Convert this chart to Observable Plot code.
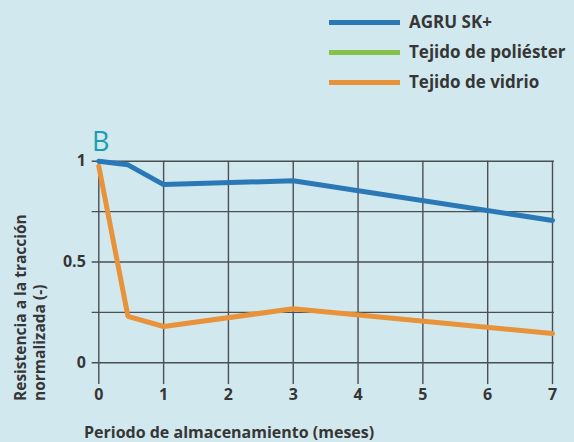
<!DOCTYPE html>
<html><head><meta charset="utf-8">
<script src="https://cdn.jsdelivr.net/npm/d3@7"></script>
<script src="https://cdn.jsdelivr.net/npm/@observablehq/plot@0.6"></script>
<style>
html,body{margin:0;padding:0;background:#d1e8ef;}
#wrap{position:relative;width:574px;height:442px;background:#d1e8ef;font-family:"Open Sans",sans-serif;color:#363636;overflow:hidden;}
#wrap svg{position:absolute;left:0;top:0;}
.lg{position:absolute;font-weight:700;font-size:17px;line-height:19px;}
.sw{position:absolute;height:5px;width:71px;}
</style></head>
<body><div id="wrap"></div>
<script>
const seriesNames = ["AGRU SK+", "Tejido de poliéster", "Tejido de vidrio"];
const seriesColors = ["#2a78b6", "#86c04d", "#e8923a"];
const agruMonths = [0, 0.45, 1, 3, 7];
const agruValues = [1.0, 0.982, 0.884, 0.903, 0.706];
const vidrioMonths = [0, 0.45, 1, 3, 7];
const vidrioValues = [0.975, 0.23, 0.18, 0.268, 0.145];
const xTicks = [0, 1, 2, 3, 4, 5, 6, 7];
const yGrid = [0, 0.25, 0.5, 0.75, 1];
const yTicks = [0, 0.5, 1];
const xLabel = "Periodo de almacenamiento (meses)";
const yLabel1 = "Resistencia a la tracción";
const yLabel2 = "normalizada (-)";
const panelLabel = "B";

const agru = agruMonths.map((m, i) => ({m, v: agruValues[i]}));
const vidrio = vidrioMonths.map((m, i) => ({m, v: vidrioValues[i]}));

const chart = Plot.plot({
  width: 574, height: 442,
  marginLeft: 98.3, marginRight: 22, marginTop: 160.7, marginBottom: 79.7,
  style: {background: "transparent", fontFamily: "Open Sans, sans-serif", fontSize: "16px", fontWeight: 700, color: "#363636"},
  x: {domain: [0, 7]},
  y: {domain: [0, 1]},
  marks: [
    Plot.ruleX(xTicks, {x: d => d, y1: 1, y2: -0.108, stroke: "#4a4f52", strokeWidth: 1.4}),
    Plot.ruleY(yGrid, {y: d => d, x1: -0.102, x2: 7.03, stroke: "#4a4f52", strokeWidth: 1.4}),
    Plot.axisX(xTicks, {tickSize: 0, tickPadding: 26, label: null, fill: "#363636", fontSize: 16, fontWeight: 700}),
    Plot.axisY(yTicks, {tickSize: 0, tickPadding: 13, label: null, fill: "#363636", fontSize: 16, fontWeight: 700, tickFormat: d => String(d)}),
    Plot.line(vidrio, {x: "m", y: "v", stroke: seriesColors[2], strokeWidth: 5, strokeLinejoin: "miter"}),
    Plot.line(agru, {x: "m", y: "v", stroke: seriesColors[0], strokeWidth: 5, strokeLinejoin: "miter"})
  ]
});
const wrap = document.getElementById("wrap");
wrap.appendChild(chart);

// legend
const legendY = [22, 52, 82];
seriesNames.forEach((n, i) => {
  const s = document.createElement("div");
  s.className = "sw"; s.style.left = "329px"; s.style.top = (legendY[i] - 2.5) + "px"; s.style.background = seriesColors[i];
  wrap.appendChild(s);
  const t = document.createElement("div");
  t.className = "lg"; t.textContent = n; t.style.left = "409px"; t.style.top = (legendY[i] - 10) + "px";
  wrap.appendChild(t);
});
// panel label
const b = document.createElement("div");
b.textContent = panelLabel;
Object.assign(b.style, {position: "absolute", left: "92px", top: "127px", fontSize: "27px", lineHeight: "27px", color: "#1a9cb3", fontWeight: 400});
wrap.appendChild(b);
// x label
const xl = document.createElement("div");
xl.textContent = xLabel;
Object.assign(xl.style, {position: "absolute", left: "84px", top: "423px", fontSize: "16px", lineHeight: "19px", fontWeight: 700});
wrap.appendChild(xl);
// y label (rotated)
const svgNS = "http://www.w3.org/2000/svg";
const ys = document.createElementNS(svgNS, "svg");
ys.setAttribute("width", 574); ys.setAttribute("height", 442);
ys.style.position = "absolute"; ys.style.left = "0"; ys.style.top = "0";
[[yLabel1, 26], [yLabel2, 45]].forEach(([txt, x]) => {
  const t = document.createElementNS(svgNS, "text");
  t.textContent = txt;
  t.setAttribute("transform", `translate(${x},401) rotate(-90)`);
  t.setAttribute("font-family", "Open Sans, sans-serif");
  t.setAttribute("font-size", "15.5"); t.setAttribute("font-weight", "700");
  t.setAttribute("fill", "#363636");
  ys.appendChild(t);
});
wrap.appendChild(ys);
</script></body></html>
